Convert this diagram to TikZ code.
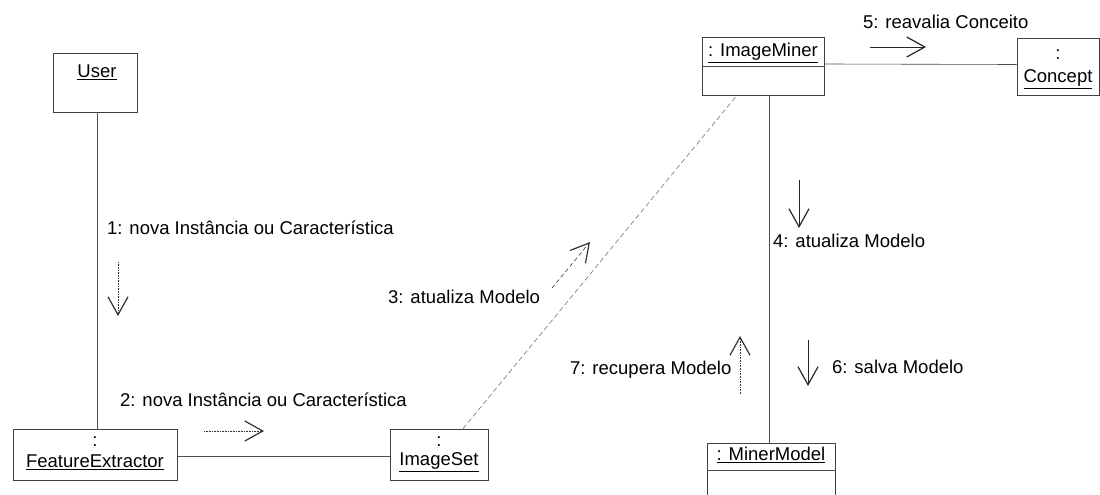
\documentclass[tikz,border=0pt]{standalone}
\usepackage{fontspec}
\setmainfont{Liberation Sans}
\usetikzlibrary{arrows.meta}
\begin{document}
\begin{tikzpicture}[x=1pt,y=-1pt,
  obj/.style={draw=black!75, line width=0.6pt, rectangle, inner sep=0pt},
  lbl/.style={font=\fontsize{18.5}{22}\selectfont, inner sep=0pt, anchor=west},
  txt/.style={font=\fontsize{18.5}{22}\selectfont, inner sep=0pt},
  link/.style={draw=black!70, line width=0.6pt},
  dlink/.style={draw=black!55, line width=0.6pt, dash pattern=on 5pt off 3pt},
  msg/.style={line width=0.6pt, -{Straight Barb[length=18pt,width=20pt,line width=1.2pt]}},
]
\useasboundingbox (0,0) rectangle (1100,495);

% object boxes
\node[obj, minimum width=84pt, minimum height=59pt] (User) at (95,82.5) {};
\node[txt] (userT) at (97,72) {\underline{User}};

\node[obj, minimum width=164pt, minimum height=51pt] (FE) at (95,454.5) {};
\node[txt] (feC) at (95,442) {:};
\node[txt] (feT) at (95,462) {\underline{FeatureExtractor}};

\node[obj, minimum width=98pt, minimum height=51pt] (IS) at (439,454.5) {};
\node[txt] (isC) at (439,442) {:};
\node[txt] (isT) at (439,462) {\underline{ImageSet}};

\node[obj, minimum width=122pt, minimum height=58pt] (IM) at (763,66) {};
\draw[link] (IM.west) -- (IM.east);
\node[txt] (imT) at (763,53) {\underline{: ImageMiner}};

\node[obj, minimum width=82pt, minimum height=57pt] (CO) at (1058,66.5) {};
\node[txt] (coC) at (1058,55) {:};
\node[txt] (coT) at (1058,79) {\underline{Concept}};

\node[obj, minimum width=128pt, minimum height=60pt] (MM) at (771,473) {};
\draw[link] (MM.west |- 0,470) -- (MM.east |- 0,470);
\node[txt] (mmT) at (771,455) {\underline{: MinerModel}};

% links
\draw[link] ([xshift=2pt]User.south) -- ([xshift=2pt]FE.north);
\draw[link] ([yshift=-2pt]FE.east) -- ([yshift=-2pt]IS.west);
\draw[dlink] ([xshift=24pt]IS.north) -- ([xshift=-26pt]IM.south);
\draw[link] ([yshift=2pt]IM.east) -- ([yshift=2pt]CO.west);
\draw[link] ([xshift=6pt]IM.south) -- ([xshift=-2pt]MM.north);

% message labels
\node[lbl] (m1) at (107,228) {1: nova Instância ou Característica};
\node[lbl] (m2) at (120,400) {2: nova Instância ou Característica};
\node[lbl] (m3) at (388,297) {3: atualiza Modelo};
\node[lbl] (m4) at (773,241) {4: atualiza Modelo};
\node[lbl] (m5) at (863,22) {5: reavalia Conceito};
\node[lbl] (m6) at (832,367) {6: salva Modelo};
\node[lbl] (m7) at (570,370) {7: recupera Modelo};

% message arrows
\coordinate (a1s) at (118,262); \coordinate (a1e) at (118,316);
\coordinate (a2s) at (204,431); \coordinate (a2e) at (264,431);
\coordinate (a3s) at (552,288); \coordinate (a3e) at (590,242);
\coordinate (a4s) at (799,180); \coordinate (a4e) at (799,228);
\coordinate (a5s) at (870,47);  \coordinate (a5e) at (926,47);
\coordinate (a6s) at (808,340); \coordinate (a6e) at (808,386);
\coordinate (a7s) at (740,394); \coordinate (a7e) at (740,336);

\draw[msg, densely dotted, draw=black!80] (a1s) -- (a1e);
\draw[msg, densely dotted, draw=black!80] (a2s) -- (a2e);
\draw[msg, dash pattern=on 4pt off 3pt, draw=black!80] (a3s) -- (a3e);
\draw[msg, draw=black!85] (a4s) -- (a4e);
\draw[msg, draw=black!85] (a5s) -- (a5e);
\draw[msg, draw=black!85] (a6s) -- (a6e);
\draw[msg, densely dotted, draw=black!80] (a7s) -- (a7e);
\end{tikzpicture}
\end{document}
